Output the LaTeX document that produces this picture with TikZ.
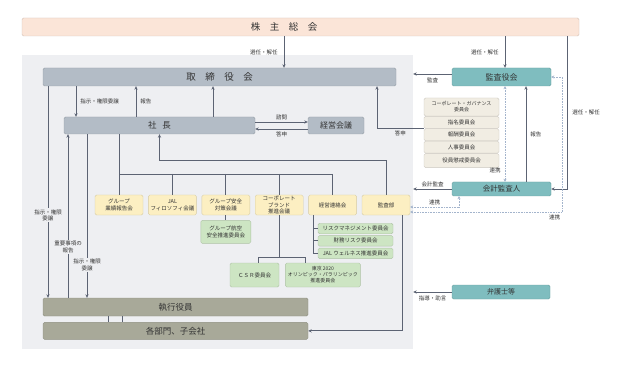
\documentclass[tikz,border=0pt]{standalone}
\usepackage{fontspec}
\setmainfont{Noto Sans CJK JP}
\usepackage{tikz}
\usetikzlibrary{arrows.meta,positioning}
\usepackage{xcolor}

\definecolor{sharefill}{HTML}{FBE5D8}
\definecolor{bluegray}{HTML}{B3BCC6}
\definecolor{tealfill}{HTML}{7FBDBF}
\definecolor{yellowfill}{HTML}{FCEFC2}
\definecolor{greenfill}{HTML}{CDE5C3}
\definecolor{beigefill}{HTML}{F1EDE3}
\definecolor{olivefill}{HTML}{A8A999}
\definecolor{areabg}{HTML}{EEEFF2}
\definecolor{linecol}{HTML}{5C6373}
\definecolor{dotcol}{HTML}{A3B4CC}
\definecolor{txt}{HTML}{333333}

\newcommand\jptitle{\fontsize{9.5}{11}\selectfont}
\newcommand\jpmid{\fontsize{8}{9}\selectfont}
\newcommand\jpsub{\fontsize{7.5}{8.5}\selectfont}
\newcommand\jpbox{\fontsize{5.5}{6.6}\selectfont}
\newcommand\jpsmall{\fontsize{5}{6}\selectfont}
\newcommand\jplbl{\fontsize{5.5}{6.5}\selectfont}

\begin{document}
\begin{tikzpicture}[x=1pt, y=-1pt,
    box/.style={draw=#1!85!black, fill=#1, rounded corners=1.5pt, inner sep=0pt,
                line width=0.4pt, align=center, text=txt, font=\jpbox},
    meeting/.style={box=yellowfill, minimum width=48pt, minimum height=20pt},
    arr/.style={-{Stealth[length=3.5pt, width=3.2pt]}, draw=linecol, line width=0.9pt},
    line/.style={draw=linecol, line width=0.9pt},
    dotarr/.style={{Stealth[length=3pt, width=3pt]}-{Stealth[length=3pt, width=3pt]},
                   draw=dotcol, line width=0.6pt, densely dotted},
    lbl/.style={font=\jplbl, text=txt, inner sep=1pt, align=center}
  ]

  \path[fill=white, use as bounding box] (0,0) rectangle (618,366);

  %% ---- company area ----
  \node[fill=areabg, minimum width=391pt, minimum height=294pt, inner sep=0pt] (area) at (217.5,202) {};

  %% ---- top level ----
  \node[box=sharefill, minimum width=557pt, minimum height=18pt, font=\jptitle] (share) at (300.5,27) {\hspace*{-33pt}株　主　総　会};
  \node[box=bluegray, minimum width=353pt, minimum height=18pt, font=\jptitle] (board) at (219.5,77) {取　締　役　会};
  \node[box=bluegray, minimum width=191pt, minimum height=17pt, font=\fontsize{8.5}{9}\selectfont] (pres) at (159.5,125.5) {社\hspace{6pt}長};
  \node[box=bluegray, minimum width=56pt, minimum height=17pt, font=\jpmid] (mgmt) at (336,125.5) {経営会議};

  %% ---- auditors ----
  \node[box=tealfill, minimum width=99pt, minimum height=18pt, font=\jpmid] (audit) at (501.5,77) {監査役会};
  \node[box=tealfill, minimum width=99pt, minimum height=14pt, font=\jpsub] (accnt) at (501.5,189) {会計監査人};
  \node[box=tealfill, minimum width=98pt, minimum height=14pt, font=\fontsize{7}{8}\selectfont] (lawyer) at (501,292) {弁護士等};

  %% ---- committees of the board ----
  \node[box=beigefill, minimum width=75pt, minimum height=18pt, font=\jpsmall] (gov) at (461.5,107) {コーポレート・ガバナンス\\委員会};
  \node[box=beigefill, minimum width=75pt, minimum height=12pt, below=0pt of gov] (nomi) {指名委員会};
  \node[box=beigefill, minimum width=75pt, minimum height=12pt, below=0pt of nomi] (pay) {報酬委員会};
  \node[box=beigefill, minimum width=75pt, minimum height=12pt, below=0pt of pay] (hr) {人事委員会};
  \node[box=beigefill, minimum width=75pt, minimum height=14pt, below=0pt of hr] (disc) {役員懲戒委員会};

  %% ---- meetings under the president ----
  \node[meeting] (gyoseki) at (119,205) {グループ\\業績報告会};
  \node[meeting, right=5pt of gyoseki] (phil) {JAL\\フィロソフィ会議};
  \node[meeting, right=5pt of phil] (safety) {グループ安全\\対策会議};
  \node[meeting, right=5pt of safety] (brand) {コーポレート\\ブランド\\推進会議};
  \node[meeting, right=5pt of brand] (renraku) {経営連絡会};
  \node[meeting, right=5pt of renraku] (kansabu) {監査部};

  \node[box=greenfill, minimum width=50pt, minimum height=23pt, below=5pt of safety] (gsafe) {グループ航空\\安全推進委員会};
  \node[box=greenfill, minimum width=75pt, minimum height=10.5pt] (risk1) at (355.5,228.5) {リスクマネジメント委員会};
  \node[box=greenfill, minimum width=75pt, minimum height=10.5pt, below=1.5pt of risk1] (risk2) {財務リスク委員会};
  \node[box=greenfill, minimum width=75pt, minimum height=10.5pt, below=1.5pt of risk2] (risk3) {JAL ウェルネス推進委員会};
  \node[box=greenfill, minimum width=49pt, minimum height=24pt] (csr) at (254.5,275) {ＣＳＲ委員会};
  \node[box=greenfill, minimum width=75pt, minimum height=24pt, right=6pt of csr, font=\jpsmall] (tokyo) {東京 2020\\オリンピック・パラリンピック\\推進委員会};

  %% ---- execution ----
  \node[box=olivefill, minimum width=265pt, minimum height=18pt, font=\fontsize{8.5}{9}\selectfont] (shikko) at (175.5,307) {執行役員};
  \node[box=olivefill, minimum width=265pt, minimum height=17pt, below=6pt of shikko, font=\fontsize{8.5}{9}\selectfont] (kakubu) {各部門、子会社};

  %% ---- shareholders ----
  \draw[arr] (share.south -| 284,0) -- (board.north -| 284,0) node[midway, left=5pt, lbl] {選任・解任};
  \draw[arr] (share.south -| 505,0) -- (audit.north -| 505,0) node[midway, left=5pt, lbl] {選任・解任};
  \draw[arr] (share.south -| 567,0) |- (accnt.east) node[pos=0.25, right=4pt, lbl] {選任・解任};

  %% ---- board and president ----
  \draw[arr] (board.south -| 76,0) -- (pres.north -| 76,0) node[midway, right=3pt, lbl] {指示・権限委譲};
  \draw[arr] (pres.north -| 136,0) -- (board.south -| 136,0) node[midway, right=3pt, lbl] {報告};
  \draw[arr] (pres.north -| 213,0) -- (board.south -| 213,0);
  \draw[arr] ([yshift=3.5pt]pres.east) -- ([yshift=3.5pt]mgmt.west) node[midway, above=1pt, lbl] {諮問};
  \draw[arr] ([yshift=-3.5pt]mgmt.west) -- ([yshift=-3.5pt]pres.east) node[midway, below=1pt, lbl] {答申};
  \draw[arr] (nomi.south west) -| (board.south -| 377,0) node[pos=0.25, below=1pt, lbl] {答申};

  %% ---- executives ----
  \draw[arr] (board.south -| 48,0) -- (shikko.north -| 48,0) node[pos=0.61, lbl, fill=areabg] {指示・権限\\委譲};
  \draw[arr] (shikko.north -| 68,0) -- (pres.south -| 68,0) node[pos=0.31, lbl, fill=areabg] {重要事項の\\報告};
  \draw[arr] (pres.south -| 87,0) -- (shikko.north -| 87,0) node[pos=0.8, lbl, fill=areabg] {指示・権限\\委譲};
  \draw[line] (shikko.south -| 108,0) -- (kakubu.north -| 108,0);
  \draw[line] (shikko.south -| 122,0) -- (kakubu.north -| 122,0);

  %% ---- auditors ----
  \draw[arr] ([yshift=3pt]audit.west) -- ([yshift=3pt]audit.west -| area.east) node[midway, below=2pt, lbl] {監査};
  \draw[arr] (accnt.west) -- (accnt.west -| area.east) node[midway, above=1pt, lbl] {会計監査};
  \draw[arr] (accnt.north -| 526,0) -- (audit.south -| 526,0) node[midway, right=3pt, lbl] {報告};
  \draw[dotarr] (audit.south -| 505,0) -- (accnt.north -| 505,0) node[pos=0.88, left=3pt, lbl] {連携};
  \draw[dotarr] ([yshift=-2pt]kansabu.east) -| ([xshift=-42.5pt]accnt.south) node[pos=0.25, above=1pt, lbl] {連携};
  \draw[dotarr] ([yshift=-7pt]kansabu.east) -- ++(152,0) node[pos=0.95, below=2pt, lbl] {連携} |- (audit.east);
  \draw[arr] (lawyer.west) -- (lawyer.west -| area.east) node[midway, below=2pt, lbl] {指導・助言};

  %% ---- president to meetings ----
  \coordinate (bus) at (0,174);
  \draw[line] (pres.south -| gyoseki.north) -- (gyoseki.north);
  \draw[line] (gyoseki.north |- bus) -- (renraku.north |- bus);
  \draw[line] (phil.north |- bus) -- (phil.north);
  \draw[line] (safety.north |- bus) -- (safety.north);
  \draw[line] (brand.north |- bus) -- (brand.north);
  \draw[line] (renraku.north |- bus) -- (renraku.north);
  \draw[arr] (kansabu.north) -- ++(0,-34) -| (pres.south);
  \draw[arr] (kansabu.south -| 402,0) |- (kakubu.east);

  %% ---- committees below meetings ----
  \draw[line] (safety.south) -- (gsafe.north);
  \draw[line] (renraku.south -| 313,0) |- (risk3.west);
  \draw[line] (risk1.west -| 313,0) -- (risk1.west);
  \draw[line] (risk2.west -| 313,0) -- (risk2.west);
  \draw[line] (brand.south) -- ++(0,42) coordinate (fork);
  \draw[line] ([xshift=3.5pt]csr.north) |- (fork) -| ([xshift=-17.5pt]tokyo.north);

\end{tikzpicture}
\end{document}
